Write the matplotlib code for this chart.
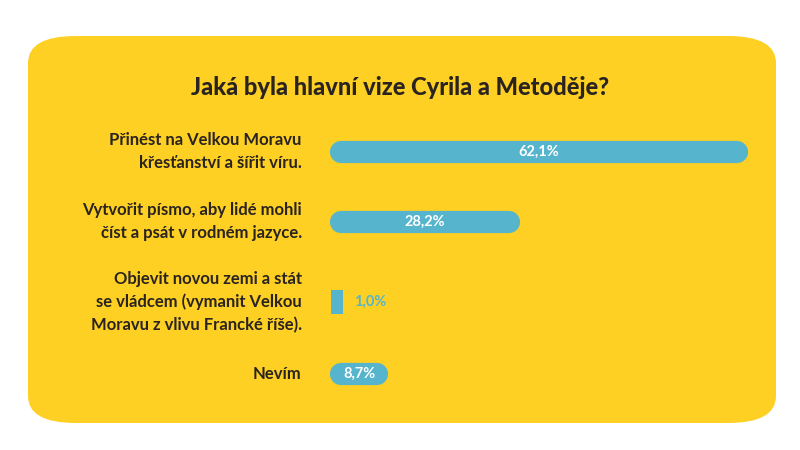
import matplotlib
matplotlib.use("Agg")
import matplotlib.pyplot as plt
from matplotlib.patches import FancyBboxPatch

title = "Jaká byla hlavní vize Cyrila a Metoděje?"
categories = ["Přinést na Velkou Moravu\nkřesťanství a šířit víru.",
              "Vytvořit písmo, aby lidé mohli\nčíst a psát v rodném jazyce.",
              "Objevit novou zemi a stát\nse vládcem (vymanit Velkou\nMoravu z vlivu Francké říše).",
              "Nevím"]
values = [62.1, 28.2, 1.0, 8.7]
labels = ["62,1%", "28,2%", "1,0%", "8,7%"]

YEL = "#FDD023"
BLUE = "#56B5CC"
TXT = "#2a2320"

fig = plt.figure(figsize=(8, 4.5), dpi=100)
fig.patch.set_facecolor("white")
bg = FancyBboxPatch((0.035, 0.06), 0.935, 0.86, boxstyle="round,pad=0,rounding_size=0.06",
                    transform=fig.transFigure, facecolor=YEL, edgecolor="none", zorder=-5)
fig.patches.append(bg)
fig.text(0.5, 0.805, title, ha="center", va="center", fontsize=17, fontweight="heavy",
         family="Lato", color=TXT)

ax = fig.add_axes([330/800, 50/450, 437/800, 280/450])
ax.set_zorder(2)
ax.set_facecolor("none")
scale = 437 / 65.0  # px per unit
r = 11 / scale
ypos = [0, 1, 2.15, 3.18]
ax.set_xlim(0, 65)
ax.set_ylim(3.55, -0.45)
for y, v, lab in zip(ypos, values, labels):
    if v < 2 * r:
        ax.barh(y, max(v, 12 / scale), height=0.33, left=0.2, color=BLUE)
        ax.text(max(v, 12 / scale) + 1.8, y, lab, ha="left", va="center", color=BLUE,
                fontsize=10.5, fontweight="bold", family="Lato")
    else:
        ax.hlines(y, r, v - r, colors=BLUE, linewidth=16, capstyle="round")
        ax.text(v / 2, y, lab, ha="center", va="center", color="white", fontsize=10.5,
                fontweight="bold", family="Lato")
for y, c in zip(ypos, categories):
    ax.text(-4.2, y, c, ha="right", va="center", color=TXT, fontsize=12,
            fontweight="bold", family="Lato", linespacing=1.5)
ax.axis("off")
fig.savefig("out.png", dpi=100)
